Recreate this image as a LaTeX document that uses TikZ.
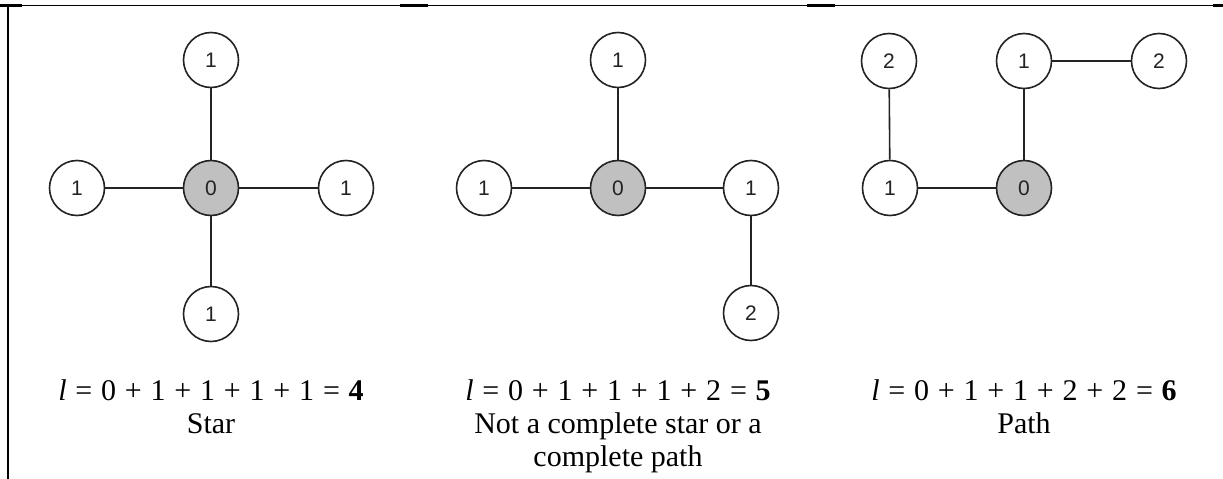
\documentclass[tikz,border=0pt]{standalone}
\usepackage{fontspec}
\setmainfont{Liberation Serif}
\newfontfamily\labelfont{Liberation Sans}
\definecolor{rootfill}{RGB}{192,192,192}
\definecolor{inkgray}{RGB}{35,35,35}
\newcommand\gap{\hspace{8.8pt}}
\newcommand\sumline[6]{\textit{l}\gap=\gap#1\gap+\gap#2\gap+\gap#3\gap+\gap#4\gap+\gap#5\gap=\gap\textbf{#6}}
\begin{document}
\begin{tikzpicture}[x=1pt,y=-1pt,
  vertex/.style={circle, draw=inkgray, line width=1.6pt, minimum size=55pt,
    inner sep=0pt, fill=white, text=inkgray,
    font=\labelfont\fontsize{21}{21}\selectfont},
  rootvertex/.style={vertex, fill=rootfill},
  link/.style={draw=inkgray, line width=1.6pt},
  caption/.style={align=center, anchor=base, inner sep=0pt,
    font=\fontsize{30}{33}\selectfont},
  rule/.style={line width=1.5pt},
  heavyrule/.style={line width=2.6pt}]
\useasboundingbox (0,0) rectangle (1223,479);

% table frame
\draw[rule] (8,5.5) -- (1223,5.5);
\draw[heavyrule] (8,4.5) -- (8,479);
\draw[heavyrule] (0,5.5) -- (22,5.5);
\draw[heavyrule] (400,5.5) -- (428,5.5);
\draw[heavyrule] (807,5.5) -- (835,5.5);
\draw[heavyrule] (1213,5.5) -- (1223,5.5);

% star
\node[rootvertex] (c1) at (211,188) {0};
\node[vertex] (t1) at (211,60) {1};
\node[vertex] (l1) at (77,188) {1};
\node[vertex] (r1) at (346,188) {1};
\node[vertex] (b1) at (211,314) {1};
\draw[link] (c1) -- (t1);
\draw[link] (c1) -- (l1);
\draw[link] (c1) -- (r1);
\draw[link] (c1) -- (b1);
\node[caption] (cap1) at (211,433) {\sumline{0}{1}{1}{1}{1}{4}\\Star};

% mixed tree
\node[rootvertex] (c2) at (618,188) {0};
\node[vertex] (t2) at (618,60) {1};
\node[vertex] (l2) at (484,188) {1};
\node[vertex] (r2) at (751,188) {1};
\node[vertex] (b2) at (751,313) {2};
\draw[link] (c2) -- (t2);
\draw[link] (c2) -- (l2);
\draw[link] (c2) -- (r2);
\draw[link] (r2) -- (b2);
\node[caption] (cap2) at (618,466) {\sumline{0}{1}{1}{1}{2}{5}\\Not a complete star or a\\complete path};

% path
\node[rootvertex] (c3) at (1024,188) {0};
\node[vertex] (a3) at (1024,61) {1};
\node[vertex] (b3) at (1159,61) {2};
\node[vertex] (d3) at (890,188) {1};
\node[vertex] (e3) at (889,61) {2};
\draw[link] (c3) -- (a3);
\draw[link] (a3) -- (b3);
\draw[link] (c3) -- (d3);
\draw[link] (d3) -- (e3);
\node[caption] (cap3) at (1024,433) {\sumline{0}{1}{1}{2}{2}{6}\\Path};
\end{tikzpicture}
\end{document}
